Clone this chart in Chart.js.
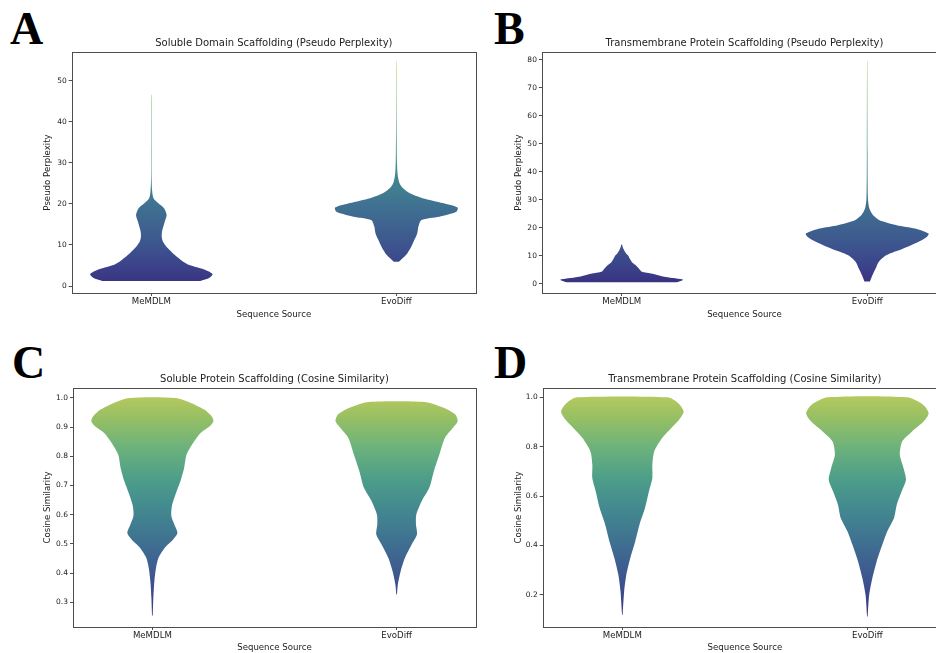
<!DOCTYPE html>
<html>
<head>
<meta charset="utf-8">
<script src="https://cdn.jsdelivr.net/npm/chart.js@4.4.1/dist/chart.umd.min.js"></script>
<style>
  body { margin: 0; width: 936px; height: 653px; overflow: hidden; background: #fff; position: relative; }
  canvas { position: absolute; }
  .tag { position: absolute; font-family: "Liberation Serif", "DejaVu Serif", serif; font-weight: bold; font-size: 46px; line-height: 1; color: #000; }
</style>
</head>
<body>
<div class="tag" style="left:10px;top:6px">A</div>
<div class="tag" style="left:494px;top:6px">B</div>
<div class="tag" style="left:12px;top:340px">C</div>
<div class="tag" style="left:494px;top:340px">D</div>

<canvas id="chartA" width="480" height="330" style="left:0;top:0"></canvas>
<canvas id="chartB" width="470" height="330" style="left:480px;top:0"></canvas>
<canvas id="chartC" width="480" height="330" style="left:0;top:330px"></canvas>
<canvas id="chartD" width="470" height="330" style="left:480px;top:330px"></canvas>

<script>
// categories
const sources = ['MeMDLM', 'EvoDiff'];

// tick labels
const pplTicksSol = [0, 10, 20, 30, 40, 50];
const pplTicksTm = [0, 10, 20, 30, 40, 50, 60, 70, 80];
const cosTicksSol = [0.3, 0.4, 0.5, 0.6, 0.7, 0.8, 0.9, 1.0];
const cosTicksTm = [0.2, 0.4, 0.6, 0.8, 1.0];

// violin profiles: value levels and relative density (1 = widest point)
// A - soluble, pseudo perplexity
const solPplMemY = [1.2, 2.0, 2.85, 3.6, 4.3, 5.1, 5.9, 7.6, 9.2, 10.8, 12.0, 13.3, 15.7, 17.3, 18.9, 20.2, 21.4, 23.0, 26.0, 33.0, 41.0, 46.6];
const solPplMemD = [0.80, 0.95, 1.0, 0.93, 0.80, 0.62, 0.52, 0.38, 0.27, 0.19, 0.17, 0.175, 0.22, 0.25, 0.21, 0.11, 0.035, 0.014, 0.005, 0.004, 0.004, 0.003];
const solPplEvoY = [5.9, 7.6, 9.2, 10.8, 12.8, 14.5, 16.1, 16.9, 18.1, 19.1, 20.2, 21.4, 22.6, 23.8, 25.0, 27.0, 30.3, 36.8, 45.0, 54.7];
const solPplEvoD = [0.04, 0.16, 0.23, 0.28, 0.34, 0.36, 0.41, 0.7, 0.98, 1.0, 0.76, 0.43, 0.22, 0.11, 0.054, 0.022, 0.01, 0.006, 0.004, 0.003];
// B - transmembrane, pseudo perplexity
const tmPplMemY = [0.5, 1.43, 2.4, 3.6, 4.4, 5.4, 6.6, 7.5, 8.7, 9.9, 11.0, 12.0, 13.2, 14.0];
const tmPplMemD = [0.9, 1.0, 0.72, 0.5, 0.32, 0.28, 0.23, 0.175, 0.137, 0.11, 0.066, 0.038, 0.015, 0.006];
const tmPplEvoY = [0.84, 3.0, 5.4, 7.8, 10.2, 12.5, 14.9, 16.7, 17.9, 19.7, 20.9, 22.7, 24.5, 26.9, 30.5, 47.0, 79.5];
const tmPplEvoD = [0.045, 0.085, 0.137, 0.186, 0.31, 0.58, 0.83, 0.97, 1.0, 0.78, 0.48, 0.2, 0.093, 0.034, 0.012, 0.006, 0.003];
// C - soluble, cosine similarity
const solCosMemY = [0.254, 0.315, 0.372, 0.418, 0.452, 0.486, 0.515, 0.537, 0.566, 0.595, 0.63, 0.67, 0.715, 0.76, 0.806, 0.85, 0.88, 0.903, 0.92, 0.937, 0.96, 0.983, 1.0];
const solCosMemD = [0.006, 0.016, 0.033, 0.06, 0.1, 0.2, 0.34, 0.41, 0.36, 0.31, 0.32, 0.38, 0.46, 0.52, 0.56, 0.68, 0.79, 0.94, 1.0, 0.97, 0.85, 0.63, 0.38];
const solCosEvoY = [0.326, 0.36, 0.406, 0.452, 0.498, 0.532, 0.566, 0.6, 0.646, 0.692, 0.749, 0.806, 0.863, 0.897, 0.92, 0.943, 0.966, 0.986];
const solCosEvoD = [0.005, 0.02, 0.066, 0.137, 0.246, 0.333, 0.317, 0.322, 0.41, 0.535, 0.61, 0.7, 0.79, 0.92, 1.0, 0.96, 0.77, 0.46];
// D - transmembrane, cosine similarity
const tmCosMemY = [0.119, 0.214, 0.281, 0.349, 0.416, 0.484, 0.551, 0.619, 0.673, 0.727, 0.78, 0.835, 0.876, 0.91, 0.943, 0.977, 1.0];
const tmCosMemD = [0.005, 0.03, 0.065, 0.13, 0.21, 0.28, 0.37, 0.435, 0.49, 0.49, 0.52, 0.65, 0.8, 0.93, 1.0, 0.91, 0.74];
const tmCosEvoY = [0.112, 0.2, 0.268, 0.335, 0.403, 0.457, 0.511, 0.565, 0.619, 0.666, 0.714, 0.768, 0.822, 0.862, 0.903, 0.936, 0.97, 1.0];
const tmCosEvoD = [0.005, 0.03, 0.082, 0.152, 0.245, 0.326, 0.435, 0.48, 0.56, 0.63, 0.59, 0.53, 0.57, 0.73, 0.92, 1.0, 0.91, 0.65];

// styling
const FONT = 'DejaVu Sans';
const TEXT = '#222';
const SPINE = '#4d4d4d';
const HALF_WIDTH = 0.25;
const cmap = [
  [0.0, '#38287a'], [0.1, '#3b4089'], [0.2, '#3d558e'], [0.35, '#3f6f91'],
  [0.5, '#438a8f'], [0.62, '#4d9e89'], [0.75, '#6cb27c'], [0.87, '#95bf64'], [1.0, '#c0cd5c']
];

// closed outline: right edge bottom->top, then left edge top->bottom
function violinOutline(center, ys, ds) {
  const right = ys.map((y, i) => ({x: center + ds[i] * HALF_WIDTH, y: y}));
  const left = ys.map((y, i) => ({x: center - ds[i] * HALF_WIDTH, y: y})).reverse();
  return right.concat(left);
}

function colormapFill(context) {
  const chart = context.chart;
  if (!chart.chartArea) return '#3f6f91';
  const y = chart.scales.y;
  const g = chart.ctx.createLinearGradient(0, y.getPixelForValue(y.min), 0, y.getPixelForValue(y.max));
  cmap.forEach(s => g.addColorStop(s[0], s[1]));
  return g;
}

const framePlugin = {
  id: 'frame',
  afterDraw(chart) {
    const {ctx, chartArea: a} = chart;
    ctx.save();
    ctx.strokeStyle = SPINE;
    ctx.lineWidth = 1;
    ctx.strokeRect(Math.round(a.left) + 0.5, Math.round(a.top) + 0.5, Math.round(a.right - a.left), Math.round(a.bottom - a.top));
    ctx.restore();
  }
};

function makePanel(id, p) {
  const datasets = p.violins.map((v, i) => ({
    data: violinOutline(i + 1, v[0], v[1]),
    xAxisID: 'x',
    yAxisID: 'y',
    showLine: true,
    fill: 'shape',
    tension: 0.25,
    borderWidth: 0,
    borderColor: 'transparent',
    pointRadius: 0,
    pointHoverRadius: 0,
    backgroundColor: colormapFill
  }));

  new Chart(document.getElementById(id), {
    type: 'scatter',
    data: {datasets: datasets},
    options: {
      responsive: false,
      animation: false,
      events: [],
      layout: {padding: {left: 0, right: p.padRight, top: 0, bottom: 0}},
      plugins: {
        legend: {display: false},
        tooltip: {enabled: false}
      },
      scales: {
        x: {
          type: 'linear', min: 0.675, max: 2.325,
          afterBuildTicks: s => { s.ticks = sources.map((_, i) => ({value: i + 1})); },
          afterFit: s => { s.height = p.xHeight; },
          ticks: {
            callback: v => sources[v - 1], color: TEXT, padding: 1,
            autoSkip: false, maxRotation: 0, font: {family: FONT, size: 8.6}
          },
          grid: {display: true, drawOnChartArea: false, drawTicks: true, tickLength: 3, color: SPINE},
          border: {display: false},
          title: {
            display: true, text: 'Sequence Source', color: TEXT,
            font: {family: FONT, size: 8.6}, padding: {top: 0, bottom: p.xTitlePad}
          }
        },
        y: {
          type: 'linear', min: p.yMin, max: p.yMax,
          afterBuildTicks: s => { s.ticks = p.yTicks.map(v => ({value: v})); },
          afterFit: s => { s.width = p.yWidth; },
          ticks: {
            callback: p.yFormat, color: TEXT, padding: 2,
            font: {family: FONT, size: 7.5}
          },
          grid: {display: true, drawOnChartArea: false, drawTicks: true, tickLength: 3, color: SPINE},
          border: {display: false},
          title: {
            display: true, text: p.yTitle, color: TEXT,
            font: {family: FONT, size: 8.6}, padding: {top: p.yTitlePad, bottom: 0}
          }
        },
        // top axis only carries the panel title, centred over the plot area
        top: {
          type: 'linear', position: 'top', min: 0, max: 1,
          afterFit: s => { s.height = p.topHeight; },
          ticks: {display: false},
          grid: {display: false},
          border: {display: false},
          title: {
            display: true, text: p.title, color: TEXT,
            font: {family: FONT, size: 10}, padding: {top: p.titlePad, bottom: 0}
          }
        }
      }
    },
    plugins: [framePlugin]
  });
}

const intFmt = v => String(v);
const decFmt = v => v.toFixed(1);

makePanel('chartA', {
  title: 'Soluble Domain Scaffolding (Pseudo Perplexity)', yTitle: 'Pseudo Perplexity',
  violins: [[solPplMemY, solPplMemD], [solPplEvoY, solPplEvoD]],
  yTicks: pplTicksSol, yMin: -1.7, yMax: 57, yFormat: intFmt,
  padRight: 4, topHeight: 52, titlePad: 37, yWidth: 71.7, yTitlePad: 42.8, xHeight: 37, xTitlePad: 9.8
});
makePanel('chartB', {
  title: 'Transmembrane Protein Scaffolding (Pseudo Perplexity)', yTitle: 'Pseudo Perplexity',
  violins: [[tmPplMemY, tmPplMemD], [tmPplEvoY, tmPplEvoD]],
  yTicks: pplTicksTm, yMin: -3.3, yMax: 82.7, yFormat: intFmt,
  padRight: 3, topHeight: 52, titlePad: 37, yWidth: 61.9, yTitlePad: 33.8, xHeight: 37, xTitlePad: 9.8
});
makePanel('chartC', {
  title: 'Soluble Protein Scaffolding (Cosine Similarity)', yTitle: 'Cosine Similarity',
  violins: [[solCosMemY, solCosMemD], [solCosEvoY, solCosEvoD]],
  yTicks: cosTicksSol, yMin: 0.215, yMax: 1.034, yFormat: decFmt,
  padRight: 4, topHeight: 58, titlePad: 43, yWidth: 73, yTitlePad: 42.8, xHeight: 33, xTitlePad: 6.8
});
makePanel('chartD', {
  title: 'Transmembrane Protein Scaffolding (Cosine Similarity)', yTitle: 'Cosine Similarity',
  violins: [[tmCosMemY, tmCosMemD], [tmCosEvoY, tmCosEvoD]],
  yTicks: cosTicksTm, yMin: 0.069, yMax: 1.038, yFormat: decFmt,
  padRight: 3, topHeight: 58, titlePad: 43, yWidth: 62.7, yTitlePad: 33.8, xHeight: 33, xTitlePad: 6.8
});
</script>
</body>
</html>
